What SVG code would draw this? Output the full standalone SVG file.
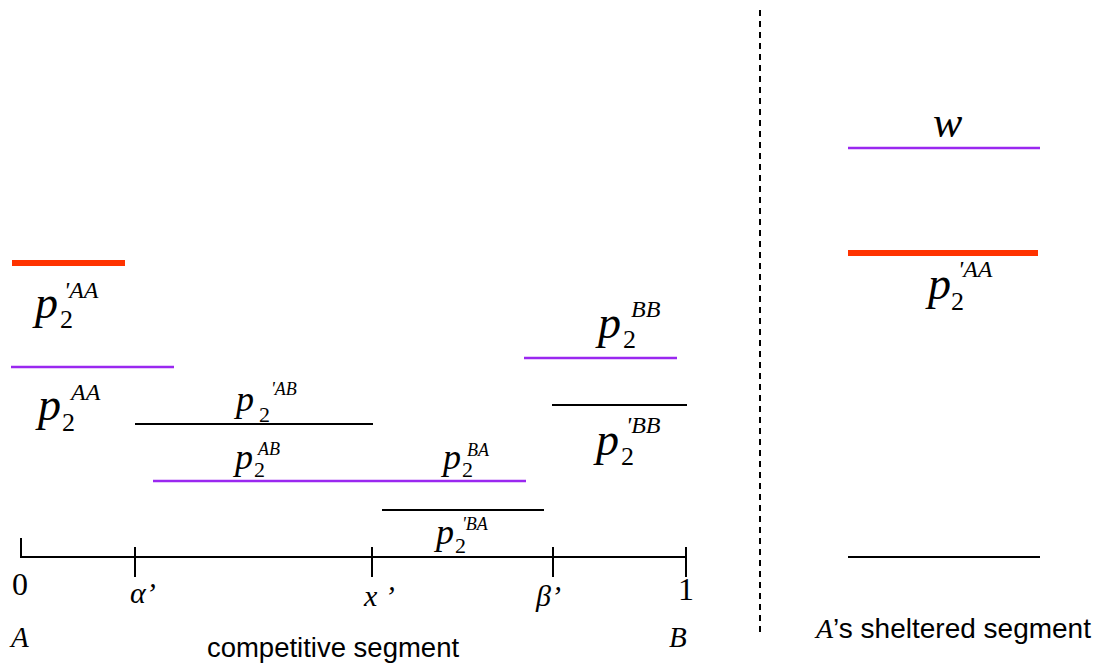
<svg xmlns="http://www.w3.org/2000/svg" width="1104" height="667" viewBox="0 0 1104 667">
<style>
.pur{stroke:#9A28F0;stroke-width:2.5;fill:none}
.org{stroke:#FF3300;stroke-width:6;fill:none}
.blk{stroke:#000;stroke-width:2;fill:none}
.dash{stroke:#000;stroke-width:2;stroke-dasharray:6 5;fill:none}
text{fill:#000}
.ti{font-family:"Liberation Serif","Times New Roman",serif;font-style:italic}
.tr{font-family:"Liberation Serif","Times New Roman",serif}
.ar{font-family:"Liberation Sans",Arial,sans-serif}
.bp{font-size:46px}
.bs{font-size:26px}
.bu{font-size:24px}
.sp{font-size:36px}
.ss{font-size:22px}
.su{font-size:18px}
</style>
<rect width="1104" height="667" fill="#fff"/>

<g id="divider">
<line class="dash" x1="760" y1="10" x2="760" y2="632"/>
</g>

<g id="axis">
<line class="blk" x1="21" y1="557" x2="687" y2="557"/>
<line class="blk" x1="21" y1="538" x2="21" y2="558"/>
<line class="blk" x1="135" y1="547" x2="135" y2="577"/>
<line class="blk" x1="372" y1="547" x2="372" y2="577"/>
<line class="blk" x1="553" y1="547" x2="553" y2="577"/>
<line class="blk" x1="686" y1="547" x2="686" y2="577"/>
<text class="tr" font-size="32" x="12" y="595">0</text>
<text class="ti" font-size="30" x="130" y="603">α’</text>
<text class="ti" font-size="30" x="364" y="606">x ’</text>
<text class="ti" font-size="30" x="536" y="606">β’</text>
<text class="tr" font-size="32" x="678" y="600">1</text>
<text class="ti" font-size="29" x="11" y="647">A</text>
<text class="ti" font-size="29" x="669" y="647">B</text>
<text class="ar" font-size="27.5" x="333" y="657" text-anchor="middle">competitive segment</text>
</g>

<g id="left-pAA-prime">
<line class="org" x1="12" y1="263" x2="125" y2="263"/>
<text class="ti bp" x="35" y="318">p</text>
<text class="tr bs" x="60" y="328">2</text>
<text class="ti bu" x="64" y="298">'AA</text>
</g>

<g id="left-pAA">
<line class="pur" x1="11" y1="367" x2="174" y2="367"/>
<text class="ti bp" x="38" y="420">p</text>
<text class="tr bs" x="62" y="431">2</text>
<text class="ti bu" x="71" y="400">AA</text>
</g>

<g id="pAB-prime">
<line class="blk" x1="135" y1="424" x2="373" y2="424"/>
<text class="ti sp" x="236" y="411">p</text>
<text class="tr ss" x="259" y="422">2</text>
<text class="ti su" x="271" y="395">'AB</text>
</g>

<g id="pAB-pBA">
<line class="pur" x1="153" y1="481" x2="526" y2="481"/>
<text class="ti sp" x="235" y="469" font-size="34">p</text>
<text class="tr ss" x="254" y="477" font-size="20">2</text>
<text class="ti su" x="258" y="455">AB</text>
<text class="ti sp" x="443" y="469" font-size="34">p</text>
<text class="tr ss" x="462" y="477" font-size="20">2</text>
<text class="ti su" x="467" y="456">BA</text>
</g>

<g id="pBA-prime">
<line class="blk" x1="382" y1="510" x2="544" y2="510"/>
<text class="ti sp" x="436" y="544" font-size="34">p</text>
<text class="tr ss" x="455" y="553" font-size="19">2</text>
<text class="ti su" x="462" y="530" font-size="17">'BA</text>
</g>

<g id="pBB">
<line class="pur" x1="524" y1="358" x2="677" y2="358"/>
<text class="ti bp" x="598" y="338">p</text>
<text class="tr bs" x="623" y="348">2</text>
<text class="ti bu" x="631" y="317">BB</text>
</g>

<g id="pBB-prime">
<line class="blk" x1="552" y1="405" x2="687" y2="405"/>
<text class="ti bp" x="596" y="455">p</text>
<text class="tr bs" x="621" y="465">2</text>
<text class="ti bu" x="626" y="433">'BB</text>
</g>

<g id="right-w">
<line class="pur" x1="848" y1="148" x2="1040" y2="148"/>
<text class="ti" font-size="44" x="933" y="137">w</text>
</g>

<g id="right-pAA-prime">
<line class="org" x1="848" y1="253" x2="1038" y2="253"/>
<text class="ti bp" x="928" y="299">p</text>
<text class="tr bs" x="951" y="310">2</text>
<text class="ti bu" x="958" y="277">'AA</text>
</g>

<g id="right-base">
<line class="blk" x1="848" y1="557" x2="1040" y2="557"/>
<text class="ar" font-size="28" x="816" y="638"><tspan class="ti" font-size="28">A</tspan>’s sheltered segment</text>
</g>
</svg>
